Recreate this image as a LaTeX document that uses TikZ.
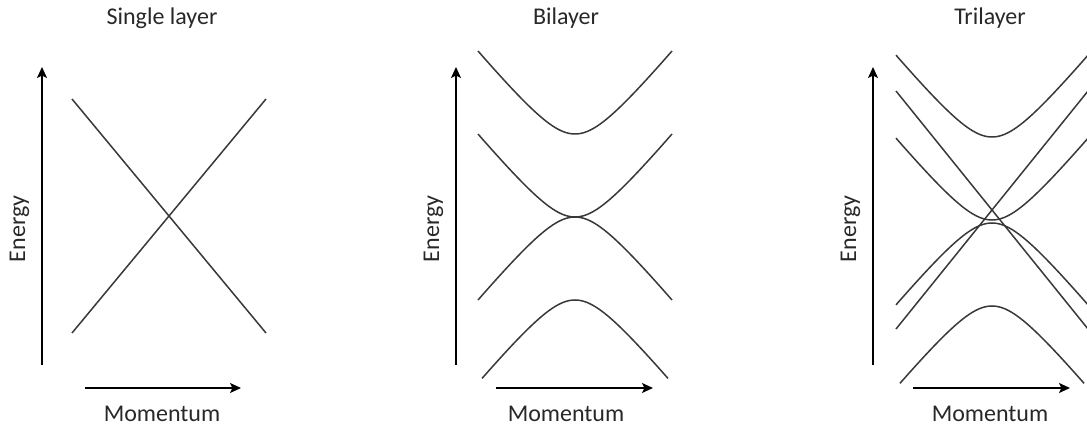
\documentclass[tikz,border=0pt]{standalone}
\usepackage{fontspec}
\setmainfont{Carlito}
\usetikzlibrary{arrows.meta}
\definecolor{BandGray}{RGB}{56,56,56}
\definecolor{LabelGray}{RGB}{40,40,40}
\tikzset{
  bandline/.style={BandGray,line width=1.5pt},
  axisarrow/.style={-{Stealth[length=11pt,width=10pt,inset=2.5pt]},line width=1.6pt},
  panellabel/.style={font=\fontsize{24}{28}\selectfont,text=LabelGray,anchor=base,inner sep=0pt}
}
% axes of one panel: name, energy axis x, momentum from x, momentum to x, label x, title
\newcommand{\bandaxes}[6]{%
  \coordinate (#1e0) at (#2,365); \coordinate (#1e1) at (#2,67);
  \coordinate (#1m0) at (#3,388); \coordinate (#1m1) at (#4,388);
  \draw[axisarrow] (#1e0)--(#1e1);
  \draw[axisarrow] (#1m0)--(#1m1);
  \node[panellabel] (#1title) at (#5,25) {#6};
  \node[panellabel] (#1mom) at (#5,421) {Momentum};
  \node[panellabel,rotate=90] (#1en) at ({#2-17},229) {Energy};}
% hyperbolic band: centre x, zero y, +1 up / -1 down, +1 split / -1 touching, half width
\newcommand{\bandcurve}[5]{%
  \draw[bandline] plot[domain=-#5:#5,samples=81,smooth]
    ({#1+\x},{#2-#3*(10*sqrt(4.15*4.15+(0.121*\x)^2)+#4*41.5)});}

\begin{document}
\begin{tikzpicture}[x=1pt,y=-1pt]
  \useasboundingbox (0,0) rectangle (1087,430);
  \clip (0,0) rectangle (1087,430);
  % single layer
  \bandaxes{s}{42}{85}{241}{162}{Single layer}
  \draw[bandline] (72,99)--(266,333);
  \draw[bandline] (72,333)--(266,99);
  % bilayer
  \bandaxes{b}{456}{496}{653}{566}{Bilayer}
  \bandcurve{575}{217}{1}{1}{97}
  \bandcurve{575}{217}{1}{-1}{97}
  \bandcurve{575}{217}{-1}{-1}{97}
  \bandcurve{575}{217}{-1}{1}{93}
  % trilayer
  \bandaxes{t}{873}{913}{1070}{990}{Trilayer}
  \bandcurve{992}{220}{1}{1}{96}
  \bandcurve{992}{220}{1}{-1}{96}
  \bandcurve{992}{223}{-1}{-1}{96}
  \bandcurve{992}{223}{-1}{1}{92}
  \draw[bandline] (896,91)--(1088,329);
  \draw[bandline] (896,329)--(1088,91);
\end{tikzpicture}
\end{document}
